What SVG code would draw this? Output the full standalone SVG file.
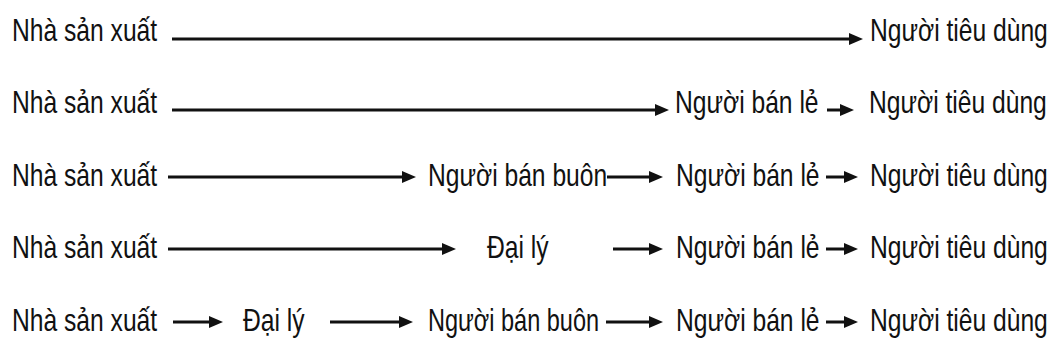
<svg xmlns="http://www.w3.org/2000/svg" width="1055" height="356" viewBox="0 0 1055 356">
<style>
text{font-family:"Liberation Sans",Arial,sans-serif;font-size:32px;fill:#111;}
.c line{stroke:#111;stroke-width:3;marker-end:url(#ah);}
</style>
<defs>
<marker id="ah" markerUnits="userSpaceOnUse" markerWidth="14" markerHeight="12" refX="1" refY="6" orient="auto" viewBox="0 0 14 12">
<path d="M0,0 L14,6 L0,12 z" fill="#111"/>
</marker>
</defs>
<rect width="1055" height="356" fill="#fff"/>
<g id="row1">
<g id="r1n1"><text transform="translate(12,41) scale(0.77,1)">Nhà sản xuất</text></g>
<g id="r1n2"><text transform="translate(870,41) scale(0.77,1)">Người tiêu dùng</text></g>
</g>
<g id="row2">
<g id="r2n1"><text transform="translate(12,113) scale(0.77,1)">Nhà sản xuất</text></g>
<g id="r2n2"><text transform="translate(675,113) scale(0.77,1)">Người bán lẻ</text></g>
<g id="r2n3"><text transform="translate(869,113) scale(0.77,1)">Người tiêu dùng</text></g>
</g>
<g id="row3">
<g id="r3n1"><text transform="translate(12,186) scale(0.77,1)">Nhà sản xuất</text></g>
<g id="r3n2"><text transform="translate(428,186) scale(0.77,1)">Người bán buôn</text></g>
<g id="r3n3"><text transform="translate(676,186) scale(0.77,1)">Người bán lẻ</text></g>
<g id="r3n4"><text transform="translate(870,186) scale(0.77,1)">Người tiêu dùng</text></g>
</g>
<g id="row4">
<g id="r4n1"><text transform="translate(12,258) scale(0.77,1)">Nhà sản xuất</text></g>
<g id="r4n2"><text transform="translate(487,258) scale(0.77,1)">Đại lý</text></g>
<g id="r4n3"><text transform="translate(676,258) scale(0.77,1)">Người bán lẻ</text></g>
<g id="r4n4"><text transform="translate(870,258) scale(0.77,1)">Người tiêu dùng</text></g>
</g>
<g id="row5">
<g id="r5n1"><text transform="translate(12,331) scale(0.77,1)">Nhà sản xuất</text></g>
<g id="r5n2"><text transform="translate(243,331) scale(0.77,1)">Đại lý</text></g>
<g id="r5n3"><text transform="translate(428,331) scale(0.735,1)">Người bán buôn</text></g>
<g id="r5n4"><text transform="translate(676,331) scale(0.77,1)">Người bán lẻ</text></g>
<g id="r5n5"><text transform="translate(870,331) scale(0.77,1)">Người tiêu dùng</text></g>
</g>
<g id="connectors" class="c">
<line x1="172" y1="39" x2="850" y2="39"/>
<line x1="172" y1="110" x2="656" y2="110"/>
<line x1="827" y1="110" x2="841" y2="110"/>
<line x1="168" y1="177" x2="403" y2="177"/>
<line x1="607" y1="177" x2="650" y2="177"/>
<line x1="826" y1="177" x2="845" y2="177"/>
<line x1="168" y1="249" x2="443" y2="249"/>
<line x1="613" y1="249" x2="650" y2="249"/>
<line x1="826" y1="249" x2="845" y2="249"/>
<line x1="173" y1="322" x2="210" y2="322"/>
<line x1="330" y1="322" x2="400" y2="322"/>
<line x1="606" y1="322" x2="650" y2="322"/>
<line x1="826" y1="322" x2="845" y2="322"/>
</g>
</svg>
